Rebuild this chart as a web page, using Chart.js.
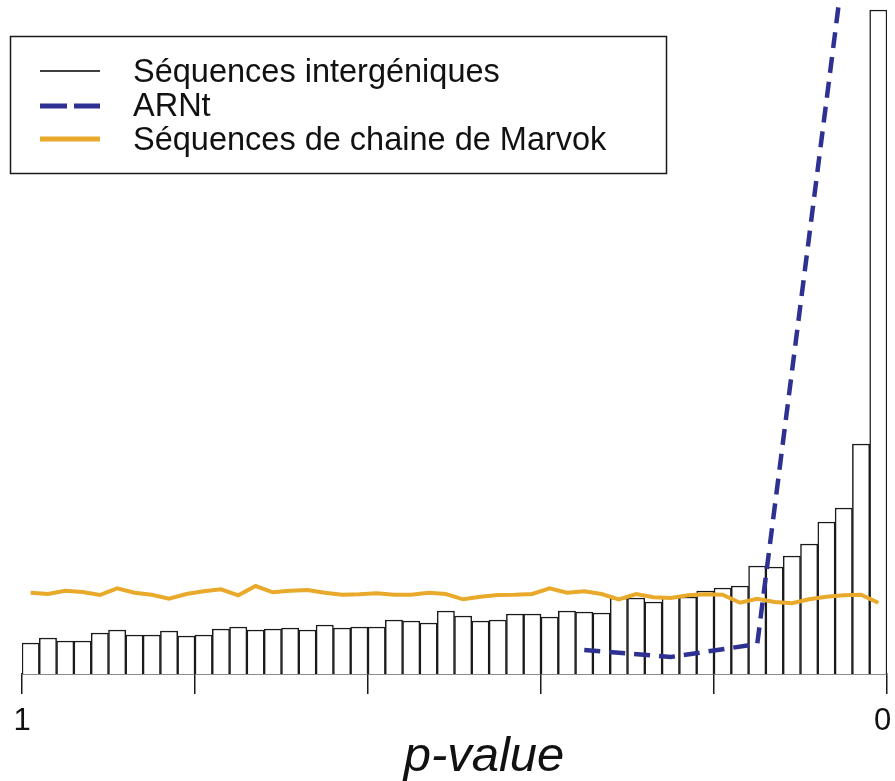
<!DOCTYPE html>
<html>
<head>
<meta charset="utf-8">
<script src="https://cdn.jsdelivr.net/npm/chart.js@4/dist/chart.umd.min.js"></script>
<style>
  html, body { margin: 0; padding: 0; background: #ffffff; }
  #wrap { width: 895px; height: 781px; }
  canvas { display: block; }
</style>
</head>
<body>
<div id="wrap"><canvas id="chart" width="895" height="781" style="width:895px;height:781px"></canvas></div>
<script>
// Histogram bins (width 0.02), centres from p = 0.99 down to p = 0.01
const binCenters = [
  0.99, 0.97, 0.95, 0.93, 0.91, 0.89, 0.87, 0.85, 0.83, 0.81,
  0.79, 0.77, 0.75, 0.73, 0.71, 0.69, 0.67, 0.65, 0.63, 0.61,
  0.59, 0.57, 0.55, 0.53, 0.51, 0.49, 0.47, 0.45, 0.43, 0.41,
  0.39, 0.37, 0.35, 0.33, 0.31, 0.29, 0.27, 0.25, 0.23, 0.21,
  0.19, 0.17, 0.15, 0.13, 0.11, 0.09, 0.07, 0.05, 0.03, 0.01
];

// Intergenic sequences: histogram counts per bin
const intergenic = [
  31, 36, 33, 33, 41, 44, 39, 39, 43, 38,
  39, 45, 47, 44, 45, 46, 44, 49, 46, 47,
  47, 54, 53, 51, 63, 58, 53, 54, 60, 60,
  57, 63, 62, 61, 76, 76, 72, 77, 77, 83,
  86, 88, 108, 107, 118, 130, 152, 166, 230, 664
];

// Markov-chain sequences: same bins, drawn as a line
const marvok = [
  81.3, 80.0, 83.3, 82.0, 79.0, 85.7, 81.3, 79.3, 75.3, 80.0,
  82.7, 84.7, 78.7, 88.0, 81.7, 83.3, 84.0, 81.3, 79.3, 79.7,
  80.7, 79.3, 79.3, 81.3, 80.0, 74.7, 77.3, 79.0, 79.3, 80.0,
  85.7, 81.3, 82.7, 80.0, 74.7, 80.0, 76.7, 76.0, 78.7, 79.7,
  79.3, 71.3, 75.3, 72.0, 70.7, 74.7, 77.3, 78.7, 79.3, 71.3
];

// tRNA: coarser bins (width 0.1)
const arntP = [0.35, 0.25, 0.15, 0.05];
const arnt = [24, 17, 30, 709];

// Axis ticks and the labels shown under them
const xTicks = [1, 0.8, 0.6, 0.4, 0.2, 0];
const xTickLabels = ['1', '', '', '', '', '0 '];
const xTitle = 'p-value';

const seriesNames = ['Séquences intergéniques', 'ARNt', 'Séquences de chaine de Marvok'];
const YMAX = 674;

const toPoints = (xs, ys) => xs.map((x, i) => ({ x: x, y: ys[i] }));

// Boxed legend in the top-left corner of the plot, plus the axis title
const legendBox = {
  id: 'legendBox',
  afterDraw(chart) {
    const ctx = chart.ctx;
    const box = { x: 10, y: 36, w: 656, h: 137 };
    ctx.save();
    ctx.fillStyle = '#ffffff';
    ctx.fillRect(box.x, box.y, box.w, box.h);
    ctx.strokeStyle = '#1a1a1a';
    ctx.lineWidth = 1.5;
    ctx.strokeRect(box.x + 0.5, box.y + 0.5, box.w, box.h);

    const rows = [
      { name: seriesNames[0], color: '#000000', width: 1.5, dash: [], baseline: 82, lineY: 71 },
      { name: seriesNames[1], color: '#2e3192', width: 5, dash: [27, 7], baseline: 116, lineY: 106 },
      { name: seriesNames[2], color: '#e9a92b', width: 5, dash: [], baseline: 150, lineY: 139 }
    ];
    rows.forEach(r => {
      ctx.beginPath();
      ctx.strokeStyle = r.color;
      ctx.lineWidth = r.width;
      ctx.setLineDash(r.dash);
      ctx.moveTo(40, r.lineY);
      ctx.lineTo(100, r.lineY);
      ctx.stroke();
      ctx.setLineDash([]);
      ctx.fillStyle = '#111111';
      ctx.font = '32.5px "Liberation Sans", Arial, sans-serif';
      ctx.textBaseline = 'alphabetic';
      ctx.textAlign = 'left';
      ctx.fillText(r.name, 133, r.baseline);
    });

    // x-axis title
    ctx.fillStyle = '#111111';
    ctx.font = 'italic 49px "Liberation Sans", Arial, sans-serif';
    ctx.textAlign = 'center';
    ctx.textBaseline = 'alphabetic';
    ctx.fillText(xTitle, 484, 771);
    ctx.restore();
  }
};

new Chart(document.getElementById('chart'), {
  type: 'bar',
  data: {
    datasets: [
      {
        type: 'bar',
        label: seriesNames[0],
        data: toPoints(binCenters, intergenic),
        backgroundColor: '#ffffff',
        borderColor: '#1a1a1a',
        borderWidth: 1.5,
        borderSkipped: 'start',
        barPercentage: 1.0,
        categoryPercentage: 1.0,
        order: 3
      },
      {
        type: 'line',
        label: seriesNames[1],
        data: toPoints(arntP, arnt),
        borderColor: '#2e3192',
        borderWidth: 4.5,
        borderDash: [16, 9],
        pointRadius: 0,
        tension: 0,
        fill: false,
        order: 2
      },
      {
        type: 'line',
        label: seriesNames[2],
        data: toPoints(binCenters, marvok),
        borderColor: '#e9a92b',
        borderWidth: 4,
        pointRadius: 0,
        tension: 0,
        fill: false,
        order: 1
      }
    ]
  },
  options: {
    responsive: false,
    animation: false,
    events: [],
    layout: { padding: { left: 22, right: 8, top: 0, bottom: 0 } },
    plugins: {
      legend: { display: false },
      tooltip: { enabled: false },
      title: { display: false }
    },
    scales: {
      x: {
        type: 'linear',
        reverse: true,
        offset: false,
        min: 0,
        max: 1,
        afterBuildTicks(scale) {
          scale.ticks = xTicks.map(v => ({ value: v }));
        },
        afterFit(scale) {
          scale.height = 107;
          scale.paddingLeft = 0;
          scale.paddingRight = 0;
        },
        grid: {
          display: true,
          offset: false,
          drawOnChartArea: false,
          drawTicks: true,
          tickLength: 20,
          color: '#1a1a1a',
          lineWidth: 1.5
        },
        border: { display: true, color: '#1a1a1a', width: 1.5 },
        ticks: {
          autoSkip: false,
          maxRotation: 0,
          padding: 12,
          color: '#111111',
          font: { family: '"Liberation Sans", Arial, sans-serif', size: 31, lineHeight: 1.0 },
          callback(value) {
            const i = xTicks.indexOf(value);
            return i >= 0 ? xTickLabels[i] : '';
          }
        },
        title: { display: false }
      },
      y: {
        display: false,
        min: 0,
        max: YMAX
      }
    }
  },
  plugins: [legendBox]
});
</script>
</body>
</html>
